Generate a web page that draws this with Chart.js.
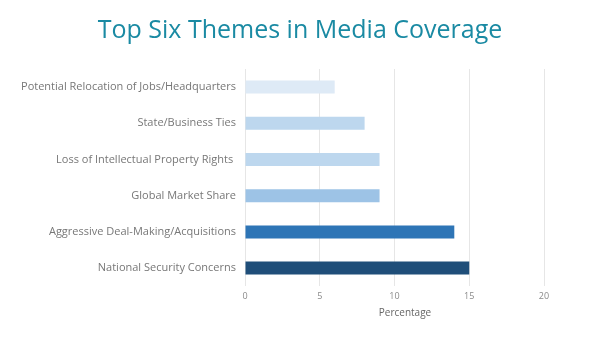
<!DOCTYPE html>
<html>
<head>
<meta charset="utf-8">
<script src="https://cdn.jsdelivr.net/npm/chart.js@4"></script>
<style>
  html, body { margin: 0; padding: 0; background: #fff; }
  #wrap { width: 600px; height: 338px; }
</style>
</head>
<body>
<div id="wrap"><canvas id="themes"></canvas></div>
<script>
// Media coverage themes, share of articles (%)
const themes = [
    'Potential Relocation of Jobs/Headquarters',
    'State/Business Ties',
    'Loss of Intellectual Property Rights ',
    'Global Market Share',
    'Aggressive Deal-Making/Acquisitions',
    'National Security Concerns'
]
const percentages = [6, 8, 9, 9, 14, 15]
const xTicks = [0, 5, 10, 15, 20]

const barColors = ['#deeaf6', '#bdd7ee', '#bdd7ee', '#9dc3e6', '#2e75b6', '#1f4e79']

// chart title centred on the canvas, axis title sits a little right of the plot centre
const extraText = {
    id: 'extraText',
    afterDraw(chart) {
        const c = chart.ctx;
        c.save();
        c.textAlign = 'center';
        c.textBaseline = 'alphabetic';
        c.fillStyle = '#1a8aa3';
        c.font = '25px "Open Sans"';
        c.fillText('Top Six Themes in Media Coverage', chart.width / 2, 38);
        c.fillStyle = '#666';
        c.font = '10px "Open Sans"';
        c.fillText('Percentage', chart.chartArea.right - 139, 316);
        c.restore();
    }
}

const ctx = document.getElementById('themes').getContext('2d');
const chart = new Chart(ctx,
    {
        type: 'bar',
        data: {
            labels: themes,
            datasets: [
                {
                    label: 'Percentage',
                    backgroundColor: barColors,
                    borderWidth: 0,
                    barPercentage: 0.36,
                    categoryPercentage: 1.0,
                    data: percentages
                }
            ]
        },
        plugins: [extraText],
        options: {
            indexAxis: 'y',
            responsive: true,
            maintainAspectRatio: false,
            animation: false,
            layout: { padding: { left: 0, right: 56, top: 69, bottom: 31 } },
            plugins: {
                legend: { display: false },
                tooltip: { enabled: false }
            },
            scales: {
                x: {
                    min: 0,
                    max: 20,
                    afterBuildTicks: axis => { axis.ticks = xTicks.map(v => ({ value: v })) },
                    grid: { color: '#e6e6e6', drawTicks: false },
                    border: { display: false },
                    ticks: {
                        color: '#8a8a8a',
                        padding: 5,
                        font: { family: 'Open Sans', size: 9 }
                    }
                },
                y: {
                    afterFit: axis => { axis.width = 245 },
                    grid: { display: false, drawTicks: false },
                    border: { display: false },
                    ticks: {
                        color: '#777',
                        padding: 9,
                        font: { family: 'Open Sans', size: 11 }
                    }
                }
            }
        }
    })
</script>
</body>
</html>
